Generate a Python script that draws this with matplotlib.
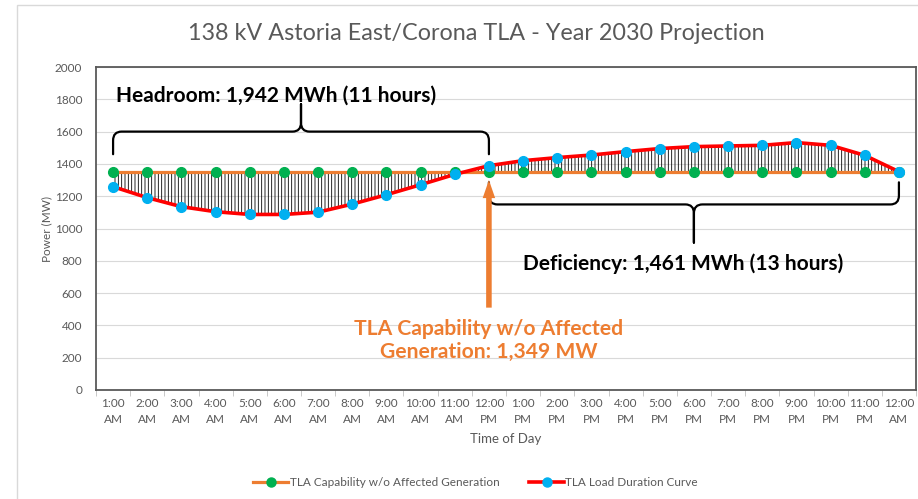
import matplotlib
matplotlib.use("Agg")
import matplotlib.pyplot as plt
from matplotlib.path import Path
from matplotlib.patches import PathPatch, Rectangle
from matplotlib.lines import Line2D
import numpy as np

plt.rcParams['font.family'] = ['Lato', 'DejaVu Sans']
plt.rcParams['hatch.linewidth'] = 0.6

# ---------------- data ----------------
time_labels = ["1:00\nAM", "2:00\nAM", "3:00\nAM", "4:00\nAM", "5:00\nAM", "6:00\nAM",
               "7:00\nAM", "8:00\nAM", "9:00\nAM", "10:00\nAM", "11:00\nAM", "12:00\nPM",
               "1:00\nPM", "2:00\nPM", "3:00\nPM", "4:00\nPM", "5:00\nPM", "6:00\nPM",
               "7:00\nPM", "8:00\nPM", "9:00\nPM", "10:00\nPM", "11:00\nPM", "12:00\nAM"]
capability = [1349, 1349, 1349, 1349, 1349, 1349, 1349, 1349, 1349, 1349, 1349, 1349,
              1349, 1349, 1349, 1349, 1349, 1349, 1349, 1349, 1349, 1349, 1349, 1349]
load_curve = [1259, 1191, 1135, 1104, 1087, 1087, 1101, 1151, 1209, 1271, 1335, 1389,
              1420, 1439, 1455, 1476, 1495, 1507, 1511, 1515, 1532, 1515, 1453, 1352]
y_ticks = [0, 200, 400, 600, 800, 1000, 1200, 1400, 1600, 1800, 2000]

title = "138 kV Astoria East/Corona TLA - Year 2030 Projection"
headroom_text = "Headroom: 1,942 MWh (11 hours)"
deficiency_text = "Deficiency: 1,461 MWh (13 hours)"
capability_text = "TLA Capability w/o Affected\nGeneration: 1,349 MW"
cap_label = "TLA Capability w/o Affected Generation"
load_label = "TLA Load Duration Curve"

ORANGE = "#ED7D31"
GREEN = "#00B050"
RED = "#FF0000"
BLUE = "#00B0F0"
GRAY = "#595959"

W, H = 918, 499
fig = plt.figure(figsize=(W / 100, H / 100), dpi=100)
fig.patches.append(Rectangle((17 / W, -0.01), 1.0, (H - 5) / H + 0.01, transform=fig.transFigure,
                             fill=False, edgecolor="#D9D9D9", linewidth=1.0))

ax = fig.add_axes([96 / W, (H - 390) / H, (916 - 96) / W, (390 - 67) / H])
x = np.arange(len(time_labels))

# hatch between curves
ax.fill_between(x, capability, load_curve, facecolor="none", edgecolor="black",
                hatch="|||||", linewidth=0, zorder=2)

ax.plot(x, capability, color=ORANGE, lw=2.3, marker="o", ms=7, mfc=GREEN, mec=GREEN, zorder=3)
ax.plot(x, load_curve, color=RED, lw=2.6, marker="o", ms=7, mfc=BLUE, mec=BLUE, zorder=4)

ax.set_xlim(-0.5, len(time_labels) - 0.5)
ax.set_ylim(0, 2000)
ax.set_yticks(y_ticks)
ax.set_xticks(x)
ax.set_xticklabels(time_labels, fontsize=8.5, color=GRAY, linespacing=1.5)
ax.set_xticks(np.arange(-0.5, len(time_labels), 1.0), minor=True)
ax.tick_params(axis="x", which="major", length=0, pad=6)
ax.tick_params(axis="x", which="minor", length=4, color="#BFBFBF", direction="out")
ax.tick_params(axis="y", length=0, pad=10, labelsize=8.5, labelcolor=GRAY)
ax.grid(axis="y", color="#D9D9D9", lw=0.8, zorder=0)
ax.set_axisbelow(True)
for s in ax.spines.values():
    s.set_color("#595959")
    s.set_linewidth(1.3)

ax.set_ylabel("Power (MW)", fontsize=8.5, color=GRAY, labelpad=2)
ax.set_xlabel("Time of Day", fontsize=9.5, color=GRAY, labelpad=6)

fig.text(476 / W, (H - 34) / H, title, ha="center", va="center", fontsize=16.8, color=GRAY)


def brace(ax, x0, x1, y_end, y_bar, y_tip, rx, ry):
    xc = (x0 + x1) / 2.0
    s = 1 if y_tip > y_bar else -1
    verts, codes = [], []
    for xa, sign in ((x0, 1), (x1, -1)):
        verts += [(xa, y_end), (xa, y_bar - s * ry), (xa, y_bar), (xa + sign * rx, y_bar),
                  (xc - sign * rx, y_bar), (xc, y_bar), (xc, y_bar + s * ry), (xc, y_tip)]
        codes += [Path.MOVETO, Path.LINETO, Path.CURVE3, Path.CURVE3,
                  Path.LINETO, Path.CURVE3, Path.CURVE3, Path.LINETO]
    ax.add_patch(PathPatch(Path(verts, codes), fill=False, edgecolor="black", lw=1.6,
                           zorder=5, capstyle="round", joinstyle="round"))


brace(ax, 0, 11, 1460, 1600, 1770, 0.25, 55)
brace(ax, 11, 23, 1286, 1149, 913, 0.25, 55)

ax.text(0.1, 1825, headroom_text, ha="left", va="center", fontsize=15, fontweight="bold",
        color="black", zorder=6)
ax.text(12.0, 783, deficiency_text, ha="left", va="center", fontsize=15, fontweight="bold",
        color="black", zorder=6)

ax.annotate("", xy=(11, 1300), xytext=(11, 510),
            arrowprops=dict(arrowstyle="simple,head_length=0.65,head_width=0.45,tail_width=0.2",
                            mutation_scale=20, fc=ORANGE, ec=ORANGE, lw=0, shrinkA=0, shrinkB=0),
            zorder=6)
ax.text(11, 305, capability_text, ha="center", va="center", fontsize=15.2, fontweight="bold",
        color=ORANGE, linespacing=1.2, zorder=6)

handles = [Line2D([], [], color=ORANGE, lw=2.3, marker="o", ms=6.5, mfc=GREEN, mec=GREEN),
           Line2D([], [], color=RED, lw=2.6, marker="o", ms=6.5, mfc=BLUE, mec=BLUE)]
fig.legend(handles, [cap_label, load_label], loc="center", bbox_to_anchor=(0.518, (H - 483) / H),
           ncol=2, frameon=False, fontsize=8.5, handlelength=3.0, handletextpad=0.1,
           columnspacing=2.5, labelcolor=GRAY)

fig.savefig("out.png", dpi=100)
